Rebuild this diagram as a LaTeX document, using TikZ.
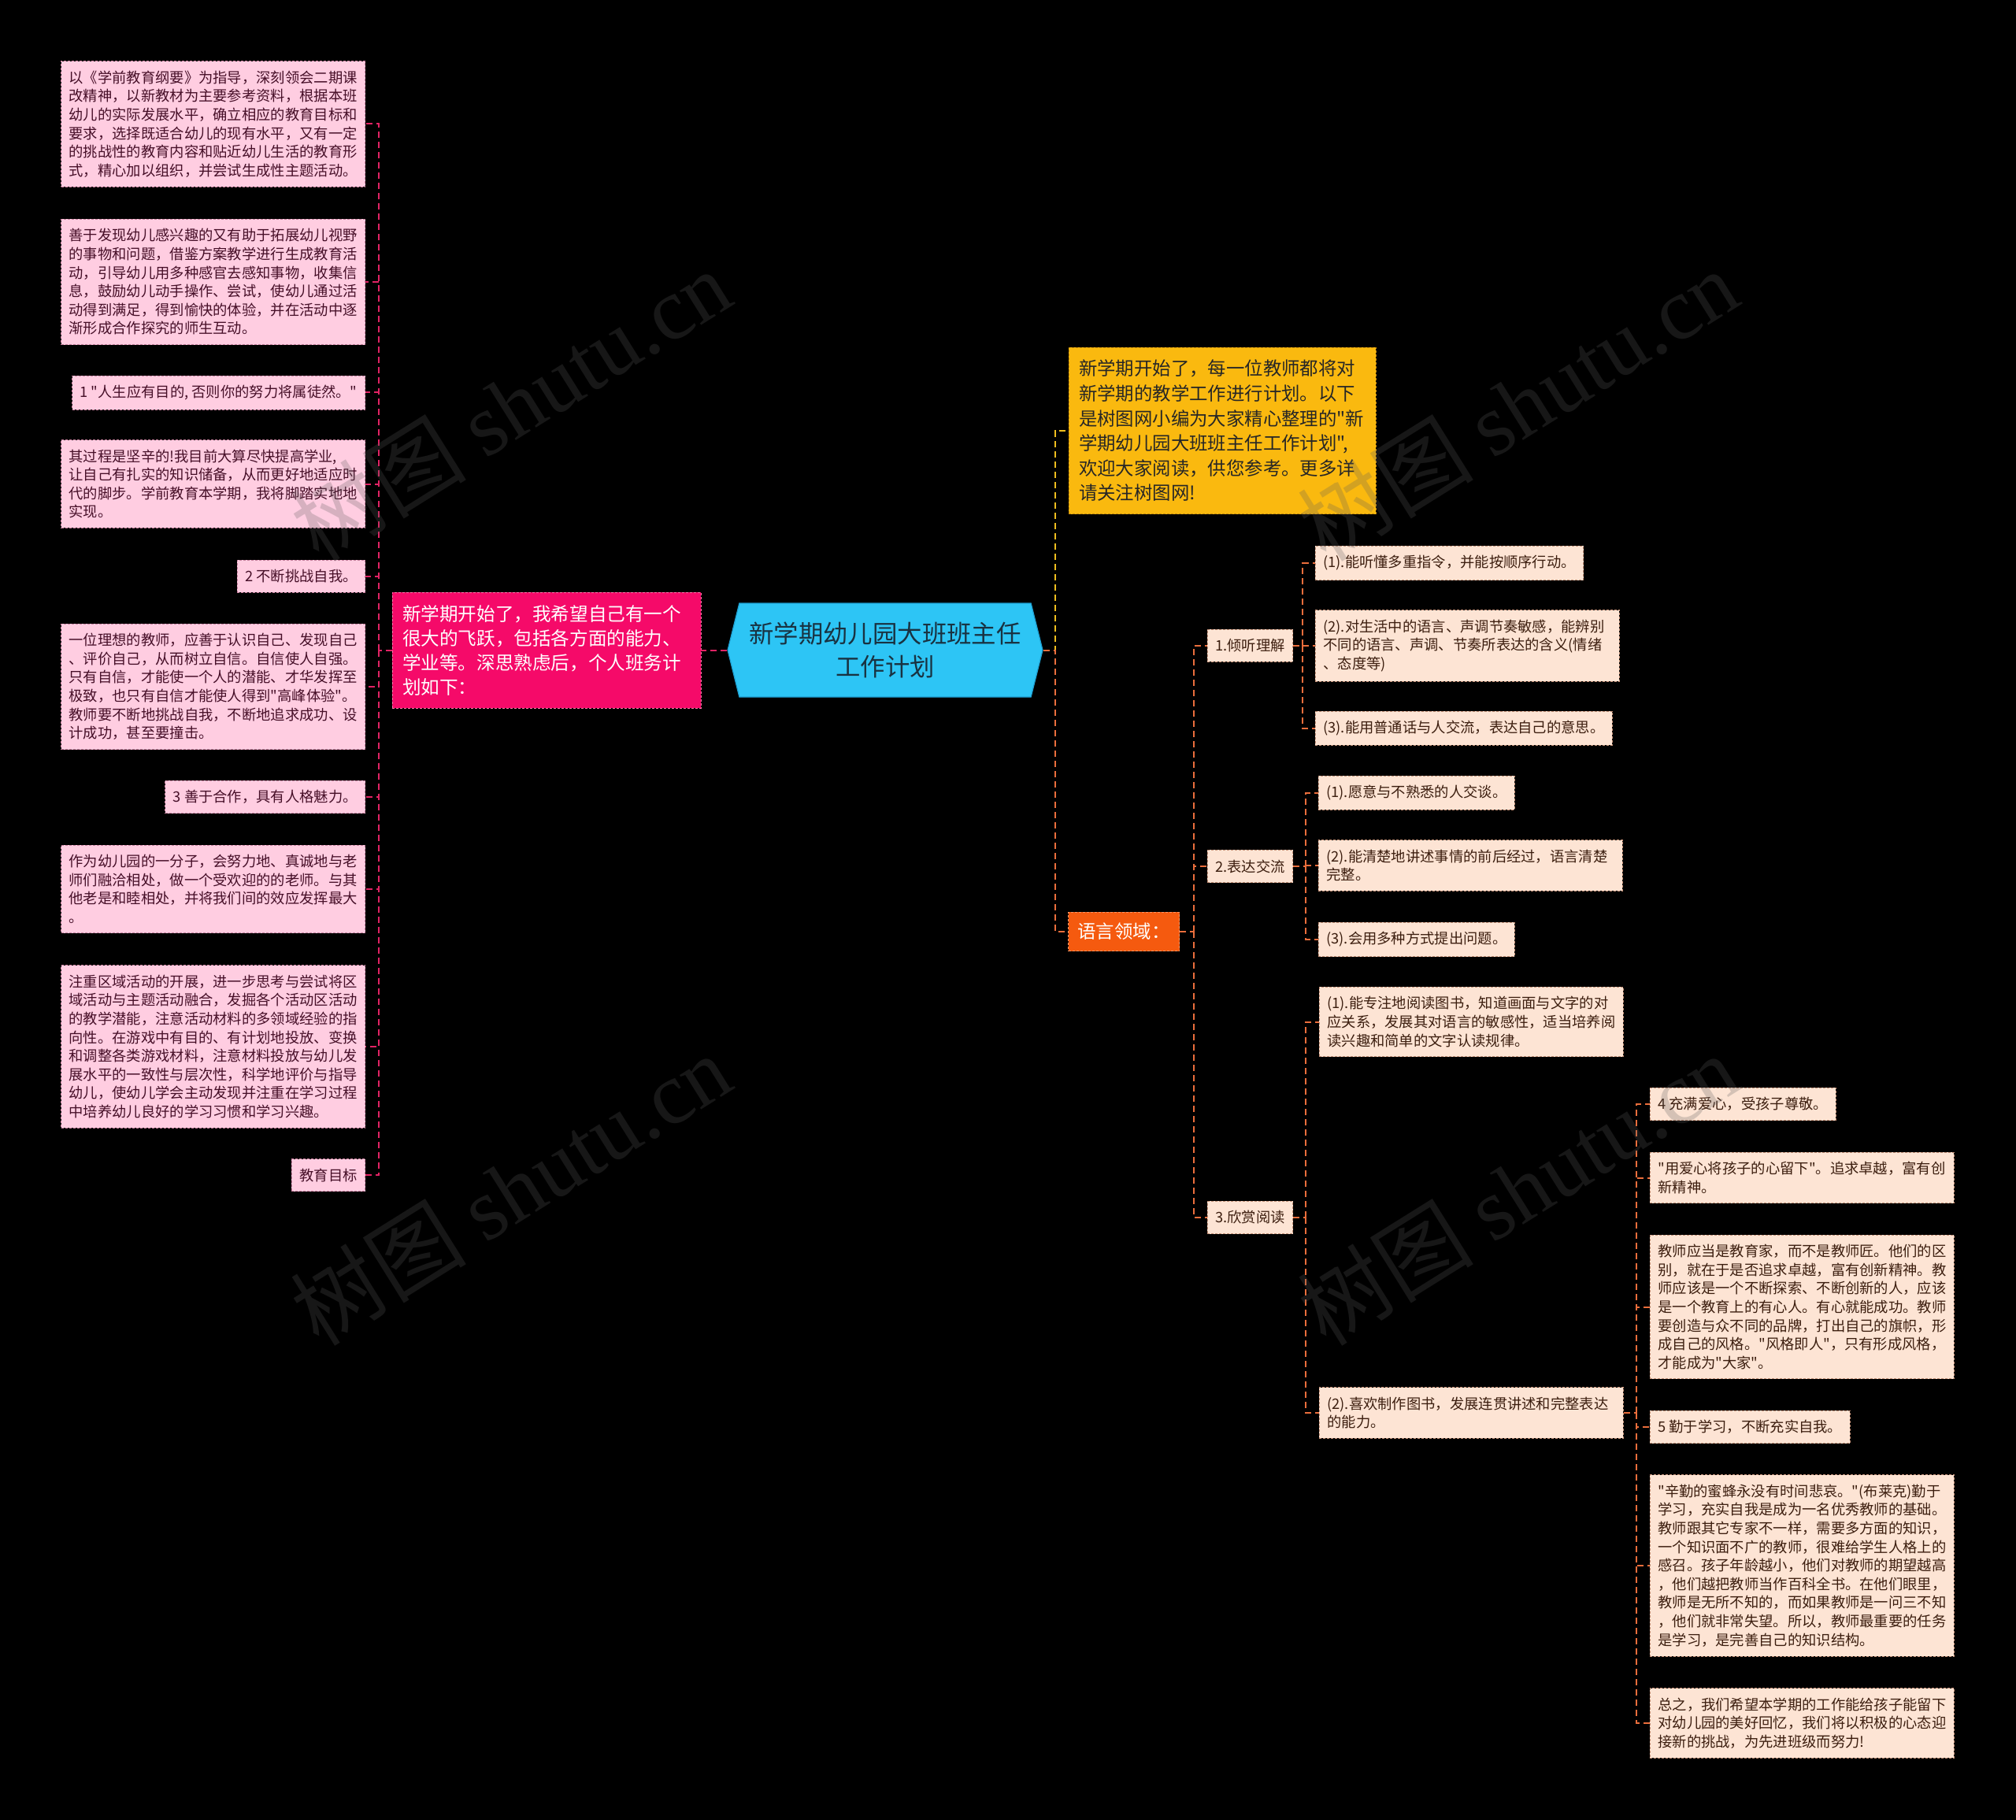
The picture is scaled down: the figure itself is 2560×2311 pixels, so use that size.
\documentclass[tikz,border=0pt]{standalone}
\usepackage{fontspec}
\setmainfont{Noto Sans CJK SC}[Ligatures=TeXOff]
\newfontfamily\wmfont{Liberation Serif}
\usepackage{tikz}
\usetikzlibrary{shapes.symbols,positioning}
\definecolor{mycyan}{RGB}{45,197,245}
\definecolor{mycyanline}{RGB}{30,160,210}
\definecolor{mynavy}{RGB}{25,50,65}
\definecolor{mymagenta}{RGB}{245,10,105}
\definecolor{mymagline}{RGB}{255,120,170}
\definecolor{mypink}{RGB}{255,205,225}
\definecolor{mypinkline}{RGB}{200,130,160}
\definecolor{mypinklink}{RGB}{225,35,100}
\definecolor{mytextpink}{RGB}{70,15,40}
\definecolor{mygold}{RGB}{250,185,15}
\definecolor{mygoldline}{RGB}{200,140,10}
\definecolor{myyellowlink}{RGB}{240,190,30}
\definecolor{myorange}{RGB}{245,90,15}
\definecolor{myorangeline}{RGB}{255,150,100}
\definecolor{mypeach}{RGB}{253,228,212}
\definecolor{mypeachline}{RGB}{195,145,120}
\definecolor{myorangelink}{RGB}{235,110,60}
\definecolor{mytextbrown}{RGB}{60,30,15}

\begin{document}
\begin{tikzpicture}[x=0.5pt, y=-0.5pt,
    leafbox/.style={fill=mypink, draw=mypinkline, dash pattern=on 1.5pt off 1pt,
                    line width=0.4pt, text=mytextpink, align=left,
                    inner xsep=5pt, inner ysep=6pt,
                    font=\fontsize{9.15}{11.8}\selectfont},
    pleaf/.style={leafbox, anchor=east},
    rleaf/.style={leafbox, fill=mypeach, draw=mypeachline, text=mytextbrown, anchor=west},
    widebox/.style={text width=183pt},
    plink/.style={draw=mypinklink, line width=1pt, dash pattern=on 4pt off 2.5pt},
    olink/.style={plink, draw=myorangelink},
    ylink/.style={plink, draw=myyellowlink}]
  \fill[black] (0,0) rectangle (2560,2311);
  \useasboundingbox (0,0) rectangle (2560,2311);

  % Root and the two big topics
  \node[signal, signal to=west and east, signal pointer angle=152,
        fill=mycyan, draw=mycyanline, line width=0.6pt,
        minimum width=200pt, minimum height=59.5pt, inner sep=0pt,
        align=center, text=mynavy, font=\fontsize{15.7}{21}\selectfont]
    (root) at (1124,825.5) {新学期幼儿园大班班主任\\工作计划};
  \node[fill=mymagenta, draw=mymagline, dash pattern=on 1.5pt off 1pt,
        text=white, text width=183pt, align=left, inner xsep=6.5pt,
        inner ysep=8pt, font=\fontsize{11.8}{15.5}\selectfont]
    (plan) at (694,825.5) {新学期开始了，我希望自己有一个\\很大的飞跃，包括各方面的能力、\\学业等。深思熟虑后，个人班务计\\划如下：};
  \node[fill=mygold, draw=mygoldline, dash pattern=on 1.5pt off 1pt,
        text=black!85, text width=182pt, align=left, inner xsep=6.5pt,
        inner ysep=8pt, font=\fontsize{11.7}{15.8}\selectfont]
    (intro) at (1552,547) {新学期开始了，每一位教师都将对\\新学期的教学工作进行计划。以下\\是树图网小编为大家精心整理的"新\\学期幼儿园大班班主任工作计划",\\欢迎大家阅读，供您参考。更多详\\请关注树图网!};
  \node[fill=myorange, draw=myorangeline, dash pattern=on 1.5pt off 1pt,
        text=white, inner xsep=6pt, inner ysep=7pt,
        font=\fontsize{11.7}{14}\selectfont]
    (lang) at (1427,1183) {语言领域：};

  % Left leaves
  \foreach \n/\y/\s/\t in {
    1/157.5/widebox/{以《学前教育纲要》为指导，深刻领会二期课\\改精神，以新教材为主要参考资料，根据本班\\幼儿的实际发展水平，确立相应的教育目标和\\要求，选择既适合幼儿的现有水平，又有一定\\的挑战性的教育内容和贴近幼儿生活的教育形\\式，精心加以组织，并尝试生成性主题活动。},
    2/358/widebox/{善于发现幼儿感兴趣的又有助于拓展幼儿视野\\的事物和问题，借鉴方案教学进行生成教育活\\动，引导幼儿用多种感官去感知事物，收集信\\息，鼓励幼儿动手操作、尝试，使幼儿通过活\\动得到满足，得到愉快的体验，并在活动中逐\\渐形成合作探究的师生互动。},
    3/498.5/pleaf/{1 "人生应有目的, 否则你的努力将属徒然。"},
    4/614.5/widebox/{其过程是坚辛的!我目前大算尽快提高学业,\\让自己有扎实的知识储备，从而更好地适应时\\代的脚步。学前教育本学期，我将脚踏实地地\\实现。},
    5/731.5/pleaf/{2 不断挑战自我。},
    6/872/widebox/{一位理想的教师，应善于认识自己、发现自己\\、评价自己，从而树立自信。自信使人自强。\\只有自信，才能使一个人的潜能、才华发挥至\\极致，也只有自信才能使人得到"高峰体验"。\\教师要不断地挑战自我，不断地追求成功、设\\计成功，甚至要撞击。},
    7/1012/pleaf/{3 善于合作，具有人格魅力。},
    8/1129/widebox/{作为幼儿园的一分子，会努力地、真诚地与老\\师们融洽相处，做一个受欢迎的的老师。与其\\他老是和睦相处，并将我们间的效应发挥最大\\。},
    9/1329/widebox/{注重区域活动的开展，进一步思考与尝试将区\\域活动与主题活动融合，发掘各个活动区活动\\的教学潜能，注意活动材料的多领域经验的指\\向性。在游戏中有目的、有计划地投放、变换\\和调整各类游戏材料，注意材料投放与幼儿发\\展水平的一致性与层次性，科学地评价与指导\\幼儿，使幼儿学会主动发现并注重在学习过程\\中培养幼儿良好的学习习惯和学习兴趣。},
    10/1492/pleaf/{教育目标}}{
    \node[pleaf, \s] (g\n) at (464,\y) {\t};
  }

  % Language branches
  \foreach \n/\y/\t in {1/819.5/1.倾听理解, 2/1100/2.表达交流, 3/1546/3.欣赏阅读}{
    \node[rleaf] (k\n) at (1533,\y) {\t};
  }
  \foreach \n/\x/\y/\s/\t in {
    a1/1670/715/rleaf/{(1).能听懂多重指令，并能按顺序行动。},
    a2/1670/820/widebox/{(2).对生活中的语言、声调节奏敏感，能辨别\\不同的语言、声调、节奏所表达的含义(情绪\\、态度等)},
    a3/1670/924.5/rleaf/{(3).能用普通话与人交流，表达自己的意思。},
    b1/1674/1006.5/rleaf/{(1).愿意与不熟悉的人交谈。},
    b2/1674/1099/widebox/{(2).能清楚地讲述事情的前后经过，语言清楚\\完整。},
    b3/1674/1193/rleaf/{(3).会用多种方式提出问题。},
    c1/1675/1297.5/widebox/{(1).能专注地阅读图书，知道画面与文字的对\\应关系，发展其对语言的敏感性，适当培养阅\\读兴趣和简单的文字认读规律。},
    c2/1675/1794/widebox/{(2).喜欢制作图书，发展连贯讲述和完整表达\\的能力。},
    d1/2095/1402/rleaf/{4 充满爱心，受孩子尊敬。},
    d2/2095/1495.5/widebox/{"用爱心将孩子的心留下"。追求卓越，富有创\\新精神。},
    d3/2095/1659.5/widebox/{教师应当是教育家，而不是教师匠。他们的区\\别，就在于是否追求卓越，富有创新精神。教\\师应该是一个不断探索、不断创新的人，应该\\是一个教育上的有心人。有心就能成功。教师\\要创造与众不同的品牌，打出自己的旗帜，形\\成自己的风格。"风格即人"，只有形成风格，\\才能成为"大家"。},
    d4/2095/1812/rleaf/{5 勤于学习，不断充实自我。},
    d5/2095/1988/widebox/{"辛勤的蜜蜂永没有时间悲哀。"(布莱克)勤于\\学习，充实自我是成为一名优秀教师的基础。\\教师跟其它专家不一样，需要多方面的知识，\\一个知识面不广的教师，很难给学生人格上的\\感召。孩子年龄越小，他们对教师的期望越高\\，他们越把教师当作百科全书。在他们眼里，\\教师是无所不知的，而如果教师是一问三不知\\，他们就非常失望。所以，教师最重要的任务\\是学习，是完善自己的知识结构。},
    d6/2095/2188/widebox/{总之，我们希望本学期的工作能给孩子能留下\\对幼儿园的美好回忆，我们将以积极的心态迎\\接新的挑战，为先进班级而努力!}}{
    \node[rleaf, \s] (\n) at (\x,\y) {\t};
  }

  % Connectors
  \coordinate (lhub) at (481,825.5);
  \coordinate (rhub) at (1340,825.5);
  \coordinate (khub) at (1516,1183);
  \coordinate (h1) at (1654,819.5);
  \coordinate (h2) at (1658,1100);
  \coordinate (h3) at (1658,1546);
  \coordinate (h4) at (2078,1794);
  \draw[plink] (root.west) -- (plan.east);
  \draw[plink] (plan.west) -- (lhub);
  \foreach \n in {1,...,10} \draw[plink] (lhub) |- (g\n.east);
  \draw[ylink] (root.east) -- (rhub) |- (intro.west);
  \draw[olink] (root.east) -- (rhub) |- (lang.west);
  \draw[olink] (lang.east) -- (khub);
  \foreach \n in {1,2,3} \draw[olink] (khub) |- (k\n.west);
  \foreach \k/\list in {1/{a1,a2,a3}, 2/{b1,b2,b3}, 3/{c1,c2}}{
    \draw[olink] (k\k.east) -- (h\k);
    \foreach \m in \list \draw[olink] (h\k) |- (\m.west);
  }
  \draw[olink] (c2.east) -- (h4);
  \foreach \n in {1,...,6} \draw[olink] (h4) |- (d\n.west);

  % Watermarks
  \foreach \x/\y in {648/514, 1927/514, 648/1510, 1927/1510}{
    \node[rotate=32, text=black!64, text opacity=0.25,
          font=\fontsize{56}{56}\selectfont] (wm) at (\x,\y) {树图 {\wmfont shutu.cn}};
  }
\end{tikzpicture}
\end{document}
